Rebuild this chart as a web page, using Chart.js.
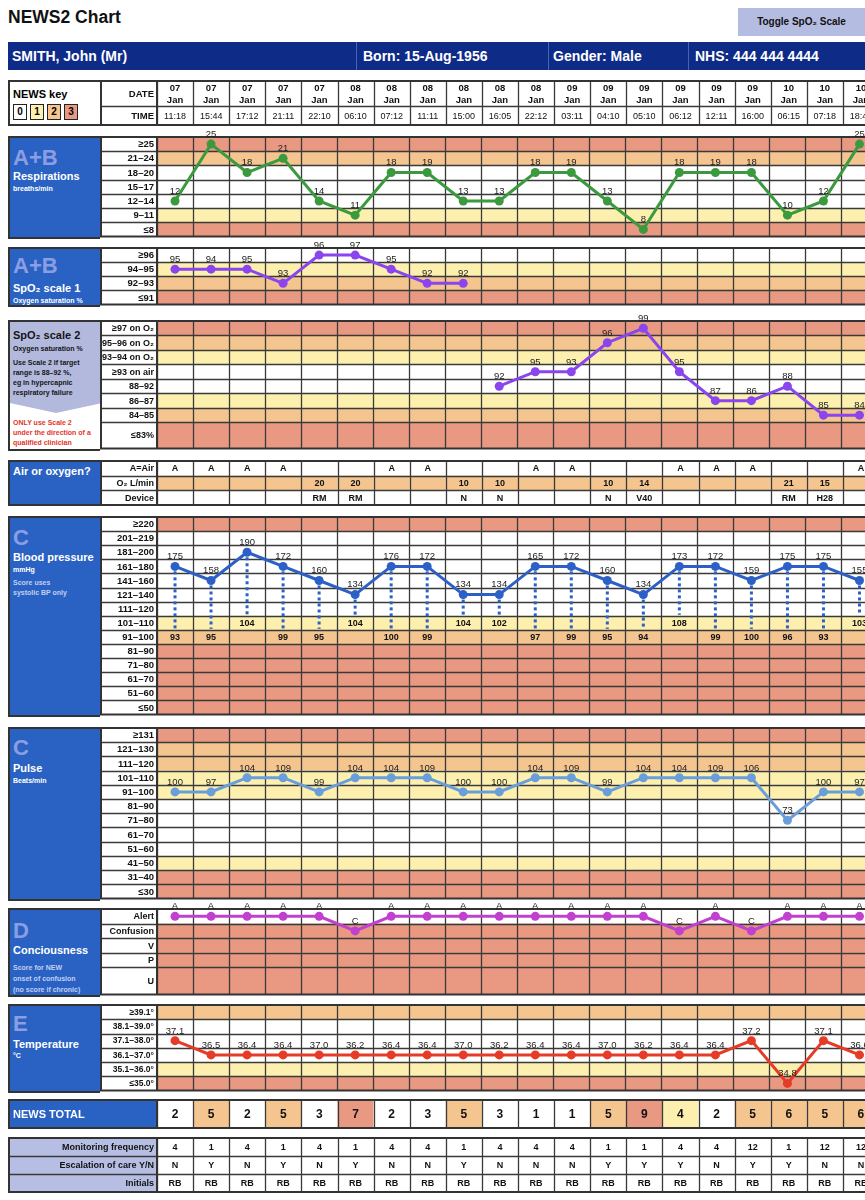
<!DOCTYPE html>
<html>
<head>
<meta charset="utf-8">
<script src="https://cdn.jsdelivr.net/npm/chart.js@4.4.1/dist/chart.umd.min.js"></script>
<style>
body { margin: 0; width: 865px; height: 1200px; overflow: hidden; position: relative; background: #fff; font-family: "Liberation Sans", Arial, sans-serif; }
canvas { position: absolute; }
.title { position: absolute; left: 8px; top: 7px; font-size: 17.5px; font-weight: bold; color: #111; }
.toggle { position: absolute; left: 738px; top: 8px; width: 127px; height: 28px; background: #b4bce2; font-size: 10px; font-weight: bold; color: #111; text-align: center; line-height: 28px; }
.hdr { position: absolute; left: 8px; top: 42px; width: 870px; height: 28px; background: #0f2b88; color: #fff; font-size: 14px; font-weight: bold; }
.hdr span { position: absolute; top: 0; line-height: 28px; }
.hdr i { position: absolute; top: 0; width: 1px; height: 28px; background: #4a62ad; }
.key { position: absolute; left: 8px; top: 80px; width: 92px; height: 46px; box-sizing: border-box; border: 2px solid #333; border-right: none; background: #fff; }
.key b { position: absolute; left: 3px; top: 6px; font-size: 11px; }
.key em { position: absolute; top: 22px; width: 14px; height: 16px; box-sizing: border-box; border: 1.5px solid #222; font-style: normal; font-weight: bold; font-size: 10px; text-align: center; line-height: 13px; }
.panel { position: absolute; left: 8px; width: 92px; box-sizing: border-box; border: 2px solid #333; border-right: none; background: #2a62c3; color: #fff; overflow: hidden; }
.panel div { position: absolute; left: 3px; white-space: nowrap; font-weight: bold; }
.big { font-size: 22px; line-height: 24px; color: #8c9ee2; }
.ttl { font-size: 11px; line-height: 14px; }
.ttl2 { font-size: 11px; line-height: 14px; }
.sub { font-size: 7px; line-height: 9px; }
.lite { font-size: 7px; line-height: 9px; color: #c3cff2; }
.dk { color: #151515; }
.red { color: #e3342a; font-size: 7px; line-height: 9px; }
</style>
</head>
<body>
<div class="title">NEWS2 Chart</div>
<div class="toggle">Toggle SpO₂ Scale</div>
<div class="hdr">
  <span style="left:4px">SMITH, John (Mr)</span>
  <i style="left:348px"></i><span style="left:355px">Born: 15-Aug-1956</span>
  <i style="left:540px"></i><span style="left:545px">Gender: Male</span>
  <i style="left:680px"></i><span style="left:687px">NHS: 444 444 4444</span>
</div>
<div class="key"><b>NEWS key</b>
  <em style="left:3px;background:#fff">0</em><em style="left:20px;background:#fdf0af">1</em><em style="left:37px;background:#f4c58f">2</em><em style="left:54px;background:#e99882">3</em>
</div>
<script>
// columns
const dateDay = ['07', '07', '07', '07', '07', '08', '08', '08', '08', '08', '08', '09', '09', '09', '09', '09', '09', '10', '10', '10'];
const dateMon = ['Jan', 'Jan', 'Jan', 'Jan', 'Jan', 'Jan', 'Jan', 'Jan', 'Jan', 'Jan', 'Jan', 'Jan', 'Jan', 'Jan', 'Jan', 'Jan', 'Jan', 'Jan', 'Jan', 'Jan'];
const times = ['11:18', '15:44', '17:12', '21:11', '22:10', '06:10', '07:12', '11:11', '15:00', '16:05', '22:12', '03:11', '04:10', '05:10', '06:12', '12:11', '16:00', '06:15', '07:18', '18:42'];

// observations
const resp = [12, 25, 18, 21, 14, 11, 18, 19, 13, 13, 18, 19, 13, 8, 18, 19, 18, 10, 12, 25];
const spo2Scale1 = [95, 94, 95, 93, 96, 97, 95, 92, 92, null, null, null, null, null, null, null, null, null, null, null];
const spo2Scale2 = [null, null, null, null, null, null, null, null, null, 92, 95, 93, 96, 99, 95, 87, 86, 88, 85, 84];
const airRow = ['A', 'A', 'A', 'A', '', '', 'A', 'A', '', '', 'A', 'A', '', '', 'A', 'A', 'A', '', '', 'A'];
const o2Flow = ['', '', '', '', '20', '20', '', '', '10', '10', '', '', '10', '14', '', '', '', '21', '15', ''];
const device = ['', '', '', '', 'RM', 'RM', '', '', 'N', 'N', '', '', 'N', 'V40', '', '', '', 'RM', 'H28', ''];
const systolic = [175, 158, 190, 172, 160, 134, 176, 172, 134, 134, 165, 172, 160, 134, 173, 172, 159, 175, 175, 155];
const diastolic = [93, 95, 104, 99, 95, 104, 100, 99, 104, 102, 97, 99, 95, 94, 108, 99, 100, 96, 93, 103];
const pulse = [100, 97, 104, 109, 99, 104, 104, 109, 100, 100, 104, 109, 99, 104, 104, 109, 106, 73, 100, 97];
const avpu = ['A', 'A', 'A', 'A', 'A', 'C', 'A', 'A', 'A', 'A', 'A', 'A', 'A', 'A', 'C', 'A', 'C', 'A', 'A', 'A'];
const temp = [37.1, 36.5, 36.4, 36.4, 37.0, 36.2, 36.4, 36.4, 37.0, 36.2, 36.4, 36.4, 37.0, 36.2, 36.4, 36.4, 37.2, 34.8, 37.1, 36.6];
const totals = [2, 5, 2, 5, 3, 7, 2, 3, 5, 3, 1, 1, 5, 9, 4, 2, 5, 6, 5, 6];
const monitorFreq = ['4', '1', '4', '1', '4', '1', '4', '4', '1', '4', '4', '4', '1', '1', '4', '4', '12', '1', '12', '12'];
const escalation = ['N', 'Y', 'N', 'Y', 'N', 'Y', 'N', 'N', 'Y', 'N', 'N', 'N', 'Y', 'Y', 'Y', 'N', 'Y', 'Y', 'N', 'N'];
const initials = ['RB', 'RB', 'RB', 'RB', 'RB', 'RB', 'RB', 'RB', 'RB', 'RB', 'RB', 'RB', 'RB', 'RB', 'RB', 'RB', 'RB', 'RB', 'RB', 'RB'];

// band rows (top to bottom)
const R = '#e99882', O = '#f4c58f', Y = '#fdf0af', W = '#ffffff';
const respRows = ['≥25', '21–24', '18–20', '15–17', '12–14', '9–11', '≤8'];
const respBg = [R, O, W, W, W, Y, R];
const s1Rows = ['≥96', '94–95', '92–93', '≤91'];
const s1Bg = [W, Y, O, R];
const s2Rows = ['≥97 on O₂', '95–96 on O₂', '93–94 on O₂', '≥93 on air', '88–92', '86–87', '84–85', '≤83%'];
const s2Bg = [R, O, Y, W, W, Y, O, R];
const airRows = ['A=Air', 'O₂ L/min', 'Device'];
const bpRows = ['≥220', '201–219', '181–200', '161–180', '141–160', '121–140', '111–120', '101–110', '91–100', '81–90', '71–80', '61–70', '51–60', '≤50'];
const bpBg = [R, W, W, W, W, W, W, Y, O, R, R, R, R, R];
const pulseRows = ['≥131', '121–130', '111–120', '101–110', '91–100', '81–90', '71–80', '61–70', '51–60', '41–50', '31–40', '≤30'];
const pulseBg = [R, O, O, Y, Y, W, W, W, W, Y, R, R];
const avpuRows = ['Alert', 'Confusion', 'V', 'P', 'U'];
const avpuBg = [W, R, R, R, R];
const tempRows = ['≥39.1°', '38.1–39.0°', '37.1–38.0°', '36.1–37.0°', '35.1–36.0°', '≤35.0°'];
const tempBg = [O, W, W, W, Y, R];

const COLS = times.length, COLW = 36.1;
const FONT = '"Liberation Sans", Arial, sans-serif';

// value -> row index
function byLimits(limits) {
    return v => { let i = limits.findIndex(t => v >= t); return i < 0 ? limits.length : i; };
}
const respBand = byLimits([25, 21, 18, 15, 12, 9]);
const s1Band = byLimits([96, 94, 92]);
const s2Band = (v, i) => {
    if (v >= 93) return airRow[i] === 'A' ? 3 : (v >= 97 ? 0 : v >= 95 ? 1 : 2);
    return v >= 88 ? 4 : v >= 86 ? 5 : v >= 84 ? 6 : 7;
};
const bpBand = byLimits([220, 201, 181, 161, 141, 121, 111, 101, 91, 81, 71, 61, 51]);
const pulseBand = byLimits([131, 121, 111, 101, 91, 81, 71, 61, 51, 41, 31]);
const avpuBand = v => ['A', 'C', 'V', 'P', 'U'].indexOf(v);
const tempBand = byLimits([39.1, 38.1, 37.1, 36.1, 35.1]);
const totalColor = v => v >= 7 ? R : v >= 5 ? O : v === 4 ? Y : W;

function panel(top, h, items, bg) {
    let d = document.createElement('div');
    d.className = 'panel';
    d.style.top = (top - 1) + 'px';
    d.style.height = (h + 2) + 'px';
    if (bg) d.style.background = bg;
    items.forEach(([txt, cy, cls, lh]) => {
        let s = document.createElement('div');
        s.className = cls;
        s.style.top = (cy - lh / 2) + 'px';
        s.innerHTML = txt;
        d.appendChild(s);
    });
    document.body.appendChild(d);
    return d;
}

function section(cfg) {
    let axisW = cfg.axisW || 57, padT = cfg.padT ?? 14, padB = 3, padR = 3;
    let spans = cfg.spans || cfg.rows.map(() => 1);
    let starts = [], acc = 0;
    spans.forEach((s, i) => { starts[i] = acc; acc += s; });
    let mid = r => starts[r] + spans[r] / 2;

    let cv = document.createElement('canvas');
    cv.width = axisW + COLW * COLS + padR;
    cv.height = cfg.h + padT + padB;
    cv.style.left = (cfg.left ?? 100) + 'px';
    cv.style.top = (cfg.top - padT) + 'px';
    document.body.appendChild(cv);

    let datasets = (cfg.series || []).map(s => ({
        data: s.values.map((v, i) => v == null ? null : mid(s.band(v, i))),
        text: s.values.map(v => v == null ? '' : (s.fmt ? s.fmt(v) : String(v))),
        borderColor: s.color,
        backgroundColor: s.color,
        borderWidth: 3,
        pointRadius: 4.5,
        pointBackgroundColor: s.color,
        pointBorderWidth: 0,
        tension: 0,
        clip: false
    }));

    let grid = {
        id: 'bands',
        beforeDatasetsDraw(chart) {
            let { ctx, chartArea: a, scales: { x, y } } = chart;
            let cw = x.getPixelForValue(1) - x.getPixelForValue(0);
            let L = y.left;
            let top = r => y.getPixelForValue(starts[r]);
            let bot = r => y.getPixelForValue(starts[r] + spans[r]);
            ctx.save();
            cfg.rows.forEach((lab, r) => {
                ctx.fillStyle = cfg.labelBg || W;
                ctx.fillRect(L, top(r), a.left - L, bot(r) - top(r));
                for (let i = 0; i < COLS; i++) {
                    ctx.fillStyle = cfg.cellBg ? cfg.cellBg(r, i) : cfg.bg[r];
                    ctx.fillRect(x.getPixelForValue(i) - cw / 2, top(r), cw, bot(r) - top(r));
                }
            });
            ctx.strokeStyle = '#3a3a3a';
            ctx.lineWidth = 1.3;
            ctx.beginPath();
            for (let r = 1; r < cfg.rows.length; r++) {
                let py = Math.round(top(r)) + 0.5;
                ctx.moveTo(L, py);
                ctx.lineTo(a.right, py);
            }
            for (let i = 0; i <= COLS; i++) {
                let px = Math.round(x.getPixelForValue(i) - cw / 2) + 0.5;
                ctx.moveTo(px, a.top);
                ctx.lineTo(px, a.bottom);
            }
            ctx.stroke();
            ctx.lineWidth = 2;
            ctx.strokeStyle = '#333';
            ctx.strokeRect(L + 1, a.top, a.right - L, a.bottom - a.top);
            ctx.beginPath();
            ctx.moveTo(a.left, a.top);
            ctx.lineTo(a.left, a.bottom);
            ctx.stroke();

            ctx.fillStyle = cfg.labelColor || '#111';
            ctx.font = cfg.labelFont || 'bold 9.5px ' + FONT;
            ctx.textBaseline = 'middle';
            ctx.textAlign = cfg.labelAlign || 'right';
            let lx = cfg.labelAlign === 'left' ? L + 5 : a.left - 3;
            cfg.rows.forEach((lab, r) => ctx.fillText(lab, lx, y.getPixelForValue(mid(r)) + 0.5));

            if (cfg.cellText) {
                ctx.textAlign = 'center';
                ctx.fillStyle = '#111';
                cfg.rows.forEach((lab, r) => {
                    ctx.font = cfg.cellFont(r);
                    for (let i = 0; i < COLS; i++) {
                        let lines = String(cfg.cellText(r, i)).split('\n');
                        let cy = y.getPixelForValue(mid(r)) + 0.5 - (lines.length - 1) * 6;
                        lines.forEach((t, k) => ctx.fillText(t, x.getPixelForValue(i), cy + k * 12));
                    }
                });
            }
            if (cfg.extra) cfg.extra(chart, mid, starts);
            ctx.restore();
        },
        afterDatasetsDraw(chart) {
            let ctx = chart.ctx;
            ctx.save();
            ctx.font = '9.5px ' + FONT;
            ctx.fillStyle = '#222';
            ctx.textAlign = 'center';
            ctx.textBaseline = 'bottom';
            chart.data.datasets.forEach((ds, di) => {
                chart.getDatasetMeta(di).data.forEach((el, i) => {
                    if (ds.text[i]) ctx.fillText(ds.text[i], el.x, el.y - 5);
                });
            });
            ctx.restore();
        }
    };

    return new Chart(cv, {
        type: 'line',
        data: { labels: times, datasets },
        options: {
            responsive: false,
            animation: false,
            devicePixelRatio: 1,
            events: [],
            layout: { padding: { top: padT, bottom: padB, left: 0, right: padR } },
            plugins: { legend: { display: false }, tooltip: { enabled: false } },
            scales: {
                x: { type: 'category', offset: true, display: false },
                y: {
                    type: 'linear', reverse: true, min: 0, max: acc,
                    ticks: { display: false }, grid: { display: false }, border: { display: false },
                    afterFit: s => { s.width = axisW; }
                }
            }
        },
        plugins: [grid]
    });
}

// date / time
section({
    top: 81, h: 44, padT: 3, rows: ['DATE', 'TIME'], spans: [1.35, 1], bg: [W, W],
    labelFont: 'bold 9.5px ' + FONT,
    cellText: (r, i) => r === 0 ? dateDay[i] + '\n' + dateMon[i] : times[i],
    cellFont: r => (r === 0 ? 'bold 9.5px ' : '9px ') + FONT
});

// A+B respirations
panel(137, 101, [['A+B', 20, 'big', 24], ['Respirations', 38, 'ttl', 14], ['breaths/min', 50, 'sub', 9]]);
section({ top: 137, h: 101, rows: respRows, bg: respBg,
    series: [{ values: resp, band: respBand, color: '#3b9a3e' }] });

// SpO2 scale 1
panel(248, 58, [['A+B', 17, 'big', 24], ['SpO₂ scale 1', 39, 'ttl', 14], ['Oxygen saturation %', 51, 'sub', 9]]);
section({ top: 248, h: 58, rows: s1Rows, bg: s1Bg,
    series: [{ values: spo2Scale1, band: s1Band, color: '#8a45ee' }] });

// SpO2 scale 2
let p2 = panel(321, 129, [], '#fff');
let lav = document.createElement('div');
lav.style.cssText = 'left:0;top:0;width:92px;height:92px;background:#b3b9dd;clip-path:polygon(0 0,100% 0,100% 81px,50% 91px,0 81px)';
p2.appendChild(lav);
[['SpO₂ scale 2', 13, 'ttl dk', 14], ['Oxygen saturation %', 26, 'sub dk', 9], ['Use Scale 2 if target', 40, 'sub dk', 9],
 ['range is 88–92 %,', 50, 'sub dk', 9], ['eg in hypercapnic', 60, 'sub dk', 9], ['respiratory failure', 70, 'sub dk', 9],
 ['ONLY use Scale 2', 100, 'red', 9], ['under the direction of a', 110, 'red', 9], ['qualified clinician', 120, 'red', 9]
].forEach(([txt, cy, cls, lh]) => {
    let s = document.createElement('div');
    s.className = cls;
    s.style.top = (cy - lh / 2) + 'px';
    s.textContent = txt;
    p2.appendChild(s);
});
section({ top: 321, h: 129, rows: s2Rows, bg: s2Bg, spans: [1, 1, 1, 1, 1, 1, 1, 1.8],
    labelFont: 'bold 9px ' + FONT,
    series: [{ values: spo2Scale2, band: s2Band, color: '#8a45ee' }] });

// air or oxygen
panel(461, 44, [['Air or oxygen?', 9, 'ttl2', 14]]);
section({
    top: 461, h: 44, padT: 3, rows: airRows, bg: [W, O, W],
    labelFont: 'bold 9px ' + FONT,
    cellText: (r, i) => [airRow, o2Flow, device][r][i],
    cellFont: r => 'bold 9px ' + FONT
});

// C blood pressure
panel(517, 199, [['C', 20, 'big', 24], ['Blood pressure', 39, 'ttl', 14], ['mmHg', 51, 'sub', 9],
    ['Score uses', 64, 'lite', 9], ['systolic BP only', 74, 'lite', 9]]);
section({ top: 517, h: 199, rows: bpRows, bg: bpBg,
    series: [{ values: systolic, band: bpBand, color: '#2c60c6' }],
    extra: (chart, mid, starts) => {
        let { ctx, scales: { x, y } } = chart;
        ctx.save();
        ctx.strokeStyle = '#2c60c6';
        ctx.lineWidth = 3;
        ctx.setLineDash([3, 3]);
        for (let i = 0; i < COLS; i++) {
            let px = x.getPixelForValue(i);
            ctx.beginPath();
            ctx.moveTo(px, y.getPixelForValue(mid(bpBand(systolic[i]))) + 5);
            ctx.lineTo(px, y.getPixelForValue(starts[bpBand(diastolic[i])]) - 1);
            ctx.stroke();
        }
        ctx.setLineDash([]);
        ctx.font = 'bold 9px ' + FONT;
        ctx.fillStyle = '#111';
        ctx.textAlign = 'center';
        ctx.textBaseline = 'middle';
        diastolic.forEach((d, i) => ctx.fillText(String(d), x.getPixelForValue(i), y.getPixelForValue(mid(bpBand(d))) + 0.5));
        ctx.restore();
    }
});

// C pulse
panel(728, 172, [['C', 19, 'big', 24], ['Pulse', 39, 'ttl', 14], ['Beats/min', 51, 'sub', 9]]);
section({ top: 728, h: 172, rows: pulseRows, bg: pulseBg,
    series: [{ values: pulse, band: pulseBand, color: '#6a9edb' }] });

// D consciousness
panel(909, 87, [['D', 21, 'big', 24], ['Conciousness', 40, 'ttl', 14], ['Score for NEW', 57, 'lite', 9],
    ['onset of confusion', 68, 'lite', 9], ['(no score if chronic)', 79, 'lite', 9]]);
section({ top: 909, h: 87, rows: avpuRows, bg: avpuBg, spans: [1, 1, 1, 1, 1.85],
    labelFont: 'bold 9px ' + FONT,
    series: [{ values: avpu, band: avpuBand, color: '#c040d0' }] });

// E temperature
panel(1005, 87, [['E', 18, 'big', 24], ['Temperature', 38, 'ttl', 14], ['°C', 49, 'sub', 9]]);
section({ top: 1005, h: 87, rows: tempRows, bg: tempBg,
    labelFont: 'bold 8.5px ' + FONT,
    series: [{ values: temp, band: tempBand, color: '#e63b26', fmt: v => v.toFixed(1) }] });

// totals
section({
    top: 1100, h: 28, padT: 3, left: 8, axisW: 149, rows: ['NEWS TOTAL'],
    labelBg: '#2a62c3', labelColor: '#fff', labelAlign: 'left', labelFont: 'bold 11px ' + FONT,
    cellBg: (r, i) => totalColor(totals[i]),
    cellText: (r, i) => totals[i],
    cellFont: r => 'bold 12px ' + FONT
});

// monitoring
section({
    top: 1138, h: 54, padT: 3, left: 8, axisW: 149,
    rows: ['Monitoring frequency', 'Escalation of care Y/N', 'Initials'], bg: [W, W, W],
    labelBg: '#b7bee3', labelFont: 'bold 9px ' + FONT,
    cellText: (r, i) => [monitorFreq, escalation, initials][r][i],
    cellFont: r => 'bold 9px ' + FONT
});
</script>
</body>
</html>
